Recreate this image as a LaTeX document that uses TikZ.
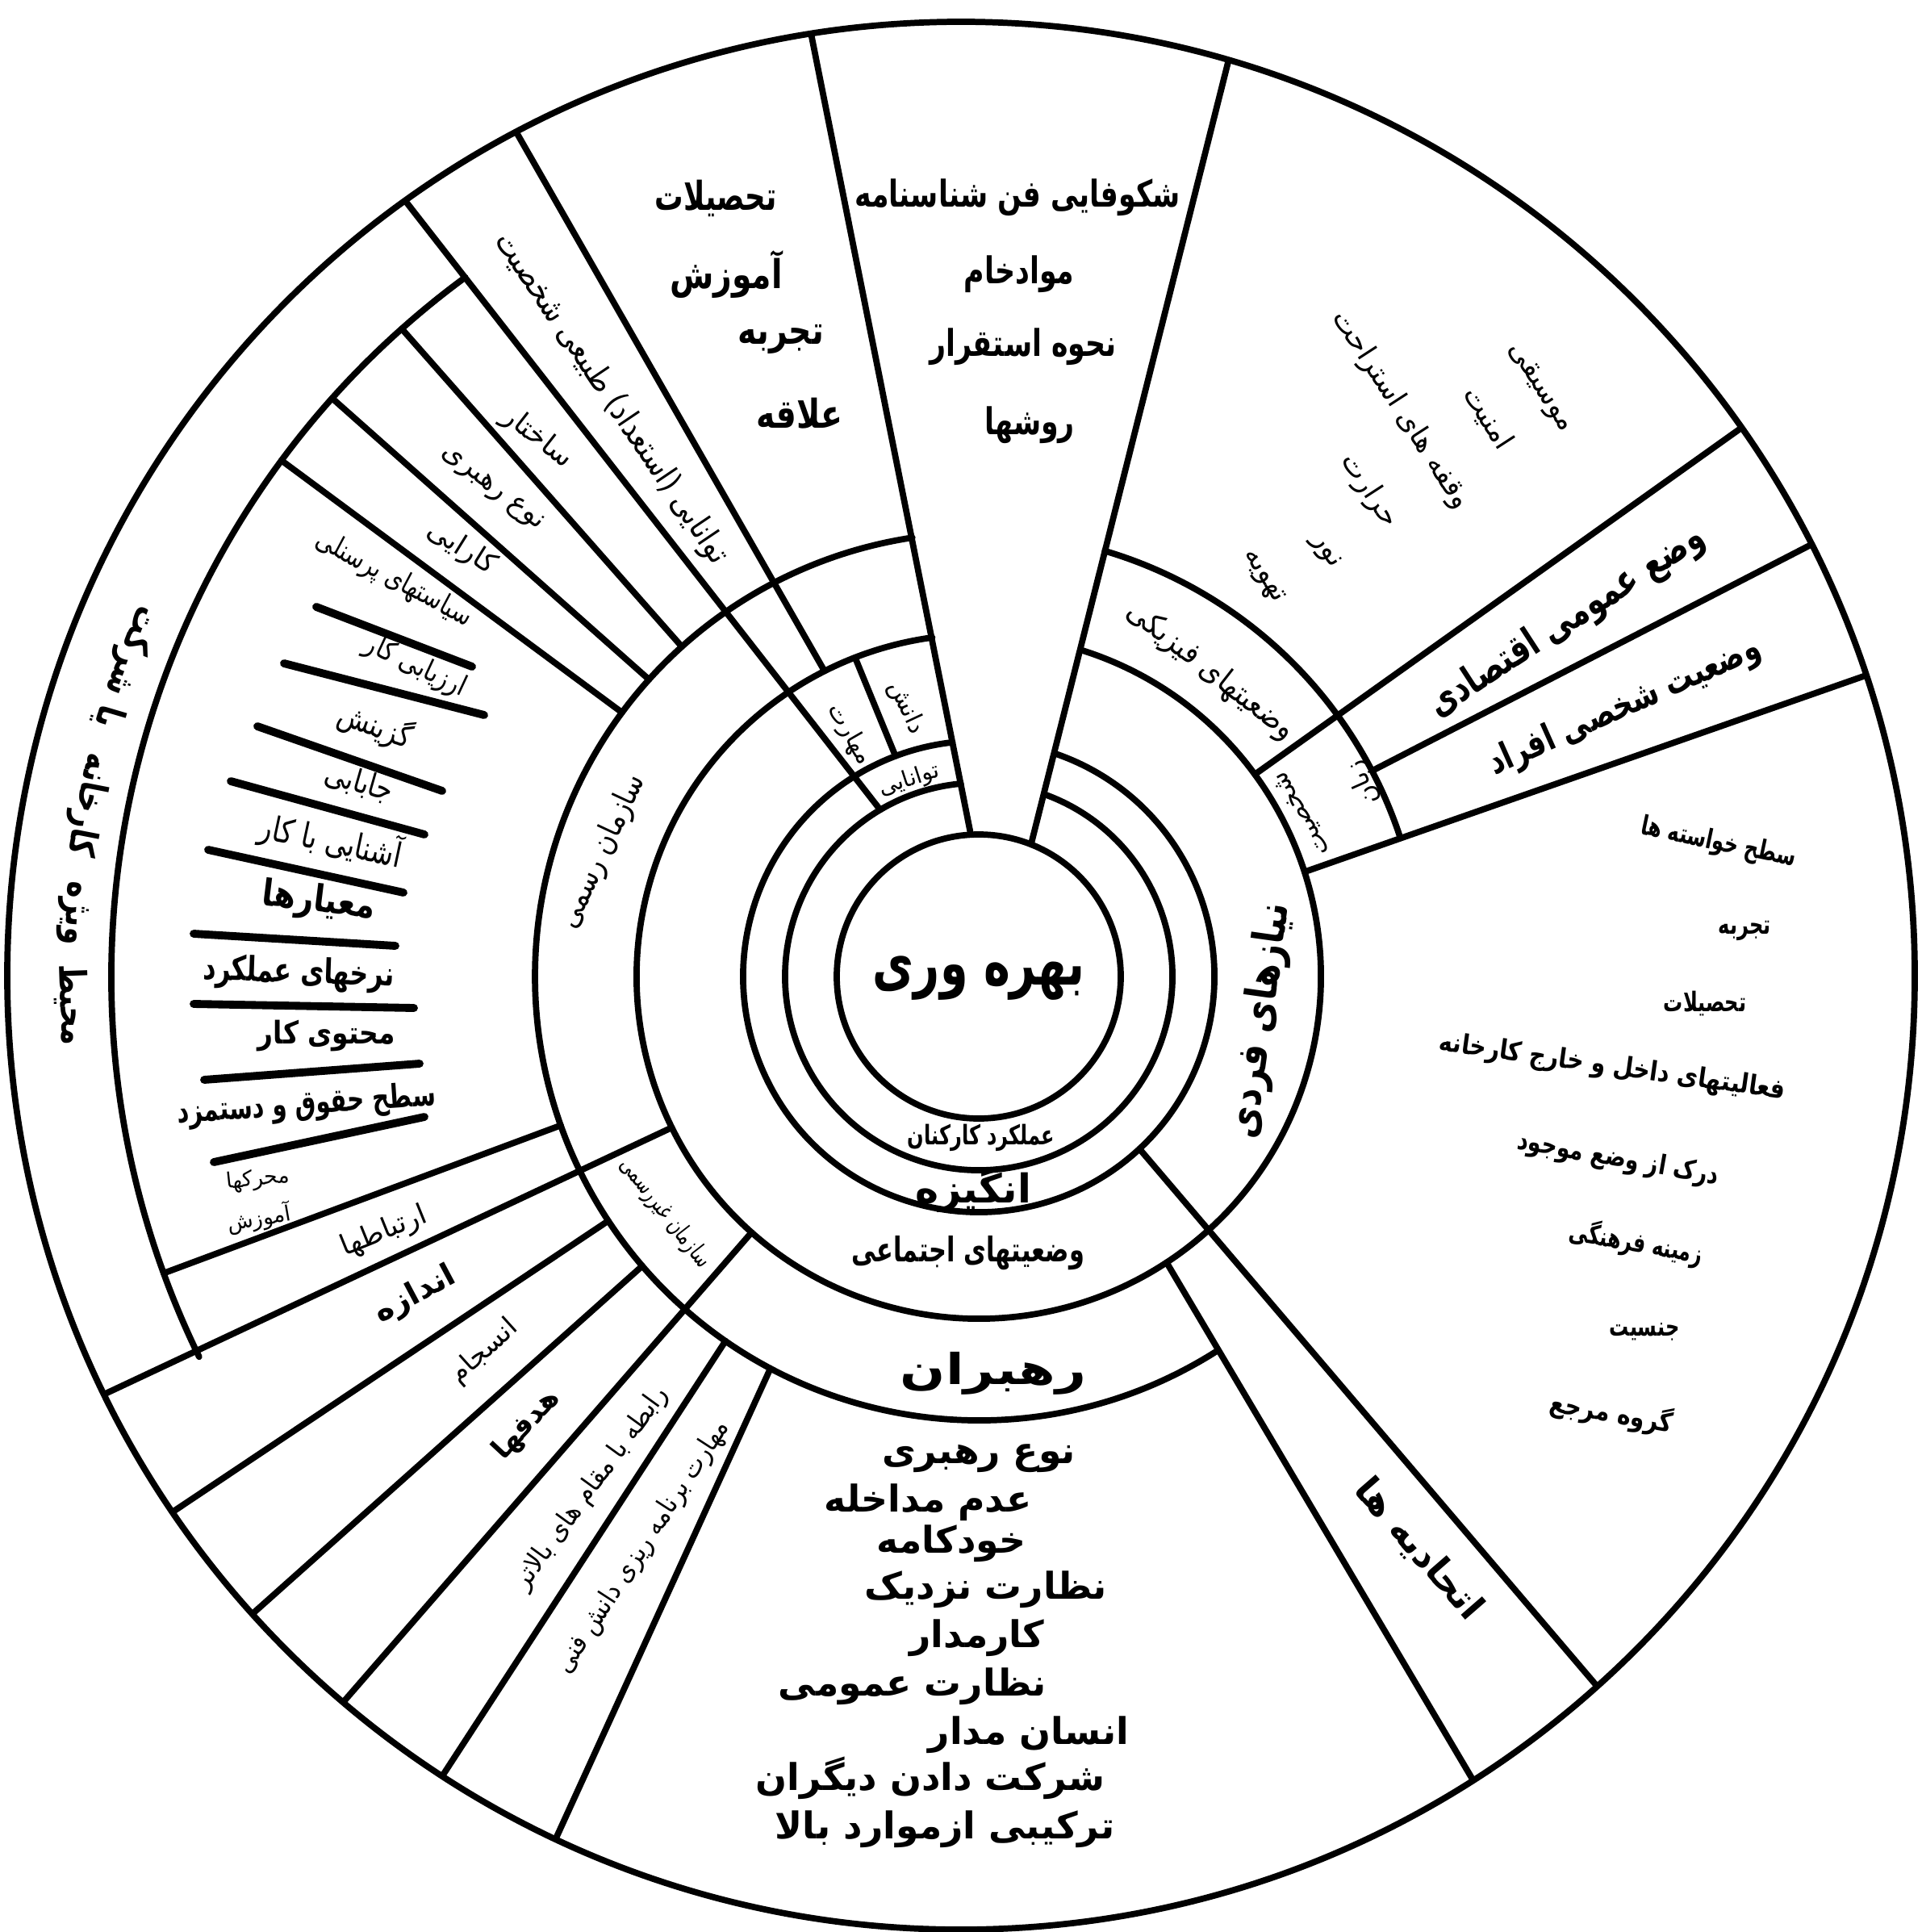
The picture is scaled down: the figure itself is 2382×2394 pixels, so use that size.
\documentclass[tikz,border=0pt]{standalone}
\usepackage{fontspec}
\newfontfamily\fa[Script=Arabic]{DejaVu Sans}
\TeXXeTstate=1
\usetikzlibrary{calc}
\newcommand\fx[1]{{\fa\beginR #1\endR}}
\tikzset{
  ln/.style={line width=2.2pt, line cap=round},
  sepline/.style={line width=2.8pt, line cap=round},
  lbl/.style={inner sep=0pt, outer sep=0pt},
  fs/.style={font=\fontsize{#1}{#1}\selectfont},
}
\begin{document}
\begin{tikzpicture}[x=0.01cm,y=-0.01cm]
\fill[white] (0,0) rectangle (2382,2394);
\useasboundingbox (0,0) rectangle (2382,2394);
\coordinate (O) at (1213,1210);
\coordinate (Oo) at (1191,1209);

% ---------- rings ----------
\draw[ln] (O) circle[radius=176];
\draw[ln] ([shift={(O)}]-70.2:240) arc[start angle=-70.2,end angle=264.7,radius=240];
\draw[ln] ([shift={(O)}]-71.2:292) arc[start angle=-71.2,end angle=263.6,radius=292];
\draw[ln] ([shift={(O)}]-72.7:424) arc[start angle=-72.7,end angle=262.2,radius=424];
\draw[ln] ([shift={(O)}]-73.5:550) arc[start angle=-73.5,end angle=-18.5,radius=550];
\draw[ln] ([shift={(O)}]57.5:550) arc[start angle=57.5,end angle=261.4,radius=550];
\draw[ln] ([shift={(O)}]154:1075) arc[start angle=154,end angle=233.7,radius=1075];

% ---------- coordinates ----------
\coordinate (w1) at ([shift={(O)}]-93.2:176);
\coordinate (w2) at (1007,51);
\coordinate (w3) at ([shift={(O)}]-68.4:176);
\coordinate (w4) at (1522,77);
\coordinate (L1a) at ([shift={(O)}]-116.8:424);
\coordinate (L1b) at ([shift={(O)}]-118.8:1300);
\coordinate (L2a) at ([shift={(O)}]-120.6:240);
\coordinate (L2b) at ([shift={(O)}]-126.6:1300);
\coordinate (L3a) at ([shift={(O)}]-110.7:292);
\coordinate (L3b) at ([shift={(O)}]-111.2:424);
\coordinate (Da) at ([shift={(O)}]-132:550);
\coordinate (Db) at ([shift={(O)}]-131.7:1075);
\coordinate (Ea) at ([shift={(O)}]-138:550);
\coordinate (Eb) at ([shift={(O)}]-138.2:1075);
\coordinate (Fa) at ([shift={(O)}]-143.5:550);
\coordinate (Fb) at ([shift={(O)}]-143.5:1075);
\coordinate (Ga) at ([shift={(O)}]160.4:550);
\coordinate (Gb) at ([shift={(O)}]160:1075);
\coordinate (Ya) at ([shift={(O)}]153.8:424);
\coordinate (Yb) at ([shift={(O)}]154.5:1300);
\coordinate (H1a) at ([shift={(O)}]146.6:550);
\coordinate (H1b) at ([shift={(O)}]146.4:1300);
\coordinate (H2a) at ([shift={(O)}]139.3:550);
\coordinate (H2b) at ([shift={(O)}]138.7:1300);
\coordinate (X1a) at ([shift={(O)}]131.6:424);
\coordinate (X1b) at ([shift={(O)}]131.2:1300);
\coordinate (H3a) at ([shift={(O)}]124.8:550);
\coordinate (H3b) at ([shift={(O)}]123.8:1300);
\coordinate (X0a) at ([shift={(O)}]118:550);
\coordinate (X0b) at ([shift={(O)}]116:1300);
\coordinate (Ba) at ([shift={(O)}]56.7:424);
\coordinate (Bb) at ([shift={(O)}]58.5:1300);
\coordinate (Aa) at ([shift={(O)}]47:292);
\coordinate (Ab) at ([shift={(O)}]49:1300);
\coordinate (Ca) at ([shift={(O)}]-17.8:424);
\coordinate (Cb) at ([shift={(O)}]-18.8:1300);
\coordinate (Ka) at ([shift={(O)}]-27.6:550);
\coordinate (Kb) at ([shift={(O)}]-27.4:1300);
\coordinate (Ma) at ([shift={(O)}]-36.2:424);
\coordinate (Mb) at ([shift={(O)}]-35.7:1300);

% ---------- dividers ----------
\begin{scope}
\clip (Oo) circle[radius=1182];
\draw[ln] (w1) -- ($(w1)!1.1!(w2)$);
\draw[ln] (w3) -- ($(w3)!1.1!(w4)$);
\draw[ln] (L1a) -- (L1b);
\draw[ln] (L2a) -- (L2b);
\draw[ln] (L3a) -- (L3b);
\draw[ln] (Da) -- (Db);
\draw[ln] (Ea) -- (Eb);
\draw[ln] (Fa) -- (Fb);
\draw[ln] (Ga) -- (Gb);
\draw[ln] (Ya) -- (Yb);
\draw[ln] (H1a) -- (H1b);
\draw[ln] (H2a) -- (H2b);
\draw[ln] (X1a) -- (X1b);
\draw[ln] (H3a) -- (H3b);
\draw[ln] (X0a) -- (X0b);
\draw[ln] (Ba) -- (Bb);
\draw[ln] (Aa) -- (Ab);
\draw[ln] (Ca) -- (Cb);
\draw[ln] (Ka) -- (Kb);
\draw[ln] (Ma) -- (Mb);
\end{scope}
\draw[ln] (Oo) circle[radius=1182];

% list separators (left fan)
\draw[sepline] (392,752) -- (585,826);
\draw[sepline] (352,822) -- (600,886);
\draw[sepline] (319,900) -- (548,980);
\draw[sepline] (286,968) -- (526,1034);
\draw[sepline] (258,1053) -- (500,1106);
\draw[sepline] (240,1157) -- (490,1172);
\draw[sepline] (240,1244) -- (513,1249);
\draw[sepline] (253,1338) -- (520,1318);
\draw[sepline] (265,1440) -- (526,1384);

% ---------- inner labels ----------
\node[lbl,fs=22,xscale=0.72] (n0) at (1213,1212) {\bfseries\fx{بهره وری}};
\node[lbl,fs=9.5,xscale=0.72] (n1) at (1216,1410) {\bfseries\fx{عملکرد کارکنان}};
\node[lbl,fs=14] (n2) at (1206,1474) {\bfseries\fx{انگیزه}};
\node[lbl,fs=8,rotate=18] (n3) at (1127,967) {\fx{توانایی}};
\node[lbl,fs=12,xscale=0.72] (n4) at (1200,1553) {\bfseries\fx{وضعیتهای اجتماعی}};
\node[lbl,fs=8.5,rotate=-65] (n5) at (1123,877) {\fx{دانش}};
\node[lbl,fs=8.5,rotate=-60] (n6) at (1053,910) {\fx{مهارت}};
\node[lbl,fs=15,rotate=82,xscale=0.82] (n7) at (1563,1265) {\bfseries\fx{نیازهای فردی}};
\node[lbl,fs=15,xscale=1.25] (n8) at (1231,1702) {\bfseries\fx{رهبران}};
\node[lbl,fs=8.5,rotate=-52,xscale=0.72] (n9) at (824,1503) {\fx{سازمان غیررسمی}};
\node[lbl,fs=11,rotate=65,xscale=0.85] (n10) at (747,1055) {\fx{سازمان رسمی}};
\node[lbl,fs=11,rotate=-38,xscale=0.9] (n11) at (1500,832) {\fx{وضعیتهای فیزیکی}};
\node[lbl,fs=9,rotate=120] (n12) at (1614,1008) {\fx{شخصیت}};
\node[lbl,fs=9,rotate=114] (n13) at (1690,970) {\fx{زبان}};

% ---------- top wedge ----------
\node[lbl,fs=13,xscale=0.76] (n14) at (1261,245) {\bfseries\fx{شکوفایی فن شناسنامه}};
\node[lbl,fs=13,xscale=0.76] (n15) at (1263,340) {\bfseries\fx{موادخام}};
\node[lbl,fs=13,xscale=0.76] (n16) at (1268,430) {\bfseries\fx{نحوه استقرار}};
\node[lbl,fs=13,xscale=0.76] (n17) at (1276,527) {\bfseries\fx{روشها}};

% ---------- top left ----------
\node[lbl,fs=14,xscale=0.72] (n18) at (887,246) {\bfseries\fx{تحصیلات}};
\node[lbl,fs=14,xscale=0.8] (n19) at (900,340) {\bfseries\fx{آموزش}};
\node[lbl,fs=14,xscale=0.8] (n20) at (968,420) {\bfseries\fx{تجربه}};
\node[lbl,fs=14,xscale=0.8] (n21) at (991,512) {\bfseries\fx{علاقه}};
\node[lbl,fs=11.5,rotate=-56,xscale=0.86] (n22) at (757,494) {\fx{توانایی (استعداد) طبیعی شخصیت}};

% ---------- left fan ----------
\node[lbl,fs=10,rotate=-38] (f1) at (666,543) {\fx{ساختار}};
\node[lbl,fs=10,rotate=-38] (f2) at (610,606) {\fx{نوع رهبری}};
\node[lbl,fs=10,rotate=-32] (f3) at (572,680) {\fx{کارایی}};
\node[lbl,fs=10,rotate=-28,xscale=0.8] (f4) at (488,718) {\fx{سیاستهای پرسنلی}};
\node[lbl,fs=10,rotate=-25,xscale=0.85] (f5) at (515,826) {\fx{ارزیابی کار}};
\node[lbl,fs=11,rotate=-20,xscale=0.85] (f6) at (465,900) {\fx{گزینش}};
\node[lbl,fs=11,rotate=-16,xscale=0.85] (f7) at (445,970) {\fx{جابابی}};
\node[lbl,fs=12,rotate=-12,xscale=0.8] (f8) at (410,1042) {\fx{آشنایی با کار}};
\node[lbl,fs=13,rotate=-7,xscale=0.85] (f9) at (395,1118) {\bfseries\fx{معیارها}};
\node[lbl,fs=12,rotate=-2,xscale=0.75] (f10) at (370,1207) {\bfseries\fx{نرخهای عملکرد}};
\node[lbl,fs=11,xscale=0.85] (f11) at (405,1284) {\bfseries\fx{محتوی کار}};
\node[lbl,fs=11.5,rotate=4,xscale=0.72] (f12) at (380,1370) {\bfseries\fx{سطح حقوق و دستمزد}};
\node[lbl,fs=7.5,rotate=6] (f13) at (320,1462) {\fx{محرکها}};
\node[lbl,fs=7.5,rotate=10] (f14) at (321,1510) {\fx{آموزش}};

% outer band (curved words)
\node[lbl,fs=13,rotate=-88,xscale=0.78] (m1) at ([shift={(O)}]178.2:1125) {\bfseries\fx{محیط}};
\node[lbl,fs=13,rotate=-94,xscale=0.78] (m2) at ([shift={(O)}]184.0:1125) {\bfseries\fx{ویژه}};
\node[lbl,fs=13,rotate=-101,xscale=0.78] (m3) at ([shift={(O)}]190.9:1125) {\bfseries\fx{کارخانه}};
\node[lbl,fs=13,rotate=-106.5,xscale=0.78] (m4) at ([shift={(O)}]196.6:1125) {\bfseries\fx{یا}};
\node[lbl,fs=13,rotate=-111,xscale=0.78] (m5) at ([shift={(O)}]201.0:1125) {\bfseries\fx{شرکت}};

% ---------- bottom left sectors ----------
\node[lbl,fs=10,rotate=22] (b1) at (476,1527) {\fx{ارتباطها}};
\node[lbl,fs=11,rotate=28] (b2) at (515,1605) {\bfseries\fx{اندازه}};
\node[lbl,fs=9.5,rotate=42] (b3) at (600,1675) {\fx{انسجام}};
\node[lbl,fs=10,rotate=47] (b4) at (653,1766) {\bfseries\fx{هدفها}};
\node[lbl,fs=9.5,rotate=54,xscale=0.92] (b5) at (733,1844) {\fx{رابطه با مقام های بالاتر}};
\node[lbl,fs=9.5,rotate=57,xscale=0.88] (b6) at (797,1917) {\fx{مهارت برنامه ریزی دانش فنی}};

% ---------- bottom list ----------
\node[lbl,fs=13] (l1) at (1213,1807) {\bfseries\fx{نوع رهبری}};
\node[lbl,fs=13] (l2) at (1150,1862) {\bfseries\fx{عدم مداخله}};
\node[lbl,fs=13] (l3) at (1179,1913) {\bfseries\fx{خودکامه}};
\node[lbl,fs=13] (l4) at (1222,1970) {\bfseries\fx{نظارت نزدیک}};
\node[lbl,fs=13] (l5) at (1211,2030) {\bfseries\fx{کارمدار}};
\node[lbl,fs=13] (l6) at (1131,2090) {\bfseries\fx{نظارت عمومی}};
\node[lbl,fs=13] (l7) at (1275,2150) {\bfseries\fx{انسان مدار}};
\node[lbl,fs=13] (l8) at (1153,2203) {\bfseries\fx{شرکت دادن دیگران}};
\node[lbl,fs=13] (l9) at (1171,2267) {\bfseries\fx{ترکیبی ازموارد بالا}};

\node[lbl,fs=13,rotate=-49] (u1) at (1758,1920) {\bfseries\fx{اتحادیه ها}};

% ---------- right list ----------
\node[lbl,fs=9.5,rotate=-12,xscale=0.72] (r1) at (2130,1045) {\bfseries\fx{سطح خواسته ها}};
\node[lbl,fs=9.5,xscale=0.72] (r2) at (2162,1153) {\bfseries\fx{تجربه}};
\node[lbl,fs=9.5,xscale=0.72] (r3) at (2113,1244) {\bfseries\fx{تحصیلات}};
\node[lbl,fs=9.5,rotate=-8,xscale=0.85] (r4) at (1998,1323) {\bfseries\fx{فعالیتهای داخل و خارج کارخانه}};
\node[lbl,fs=9.5,rotate=-10,xscale=0.8] (r5) at (2005,1437) {\bfseries\fx{درک از وضع موجود}};
\node[lbl,fs=9.5,rotate=-10,xscale=0.72] (r6) at (2028,1540) {\bfseries\fx{زمینه فرهنگی}};
\node[lbl,fs=9.5,xscale=0.72] (r7) at (2038,1650) {\bfseries\fx{جنسیت}};
\node[lbl,fs=9.5,rotate=-10,xscale=0.85] (r8) at (1997,1751) {\bfseries\fx{گروه مرجع}};

% ---------- top right ----------
\node[lbl,fs=10,rotate=-57] (t1) at (1908,481) {\fx{موسیقی}};
\node[lbl,fs=10,rotate=-57] (t2) at (1844,518) {\fx{امنیت}};
\node[lbl,fs=10,rotate=-57] (t3) at (1736,508) {\fx{وقفه های استراحت}};
\node[lbl,fs=10,rotate=-57] (t4) at (1697,608) {\fx{حرارت}};
\node[lbl,fs=10,rotate=-57] (t5) at (1642,684) {\fx{نور}};
\node[lbl,fs=10,rotate=-57] (t6) at (1565,715) {\fx{تهویه}};

\node[lbl,fs=14,rotate=33,xscale=0.75] (e1) at (1942,771) {\bfseries\fx{وضع عمومی اقتصادی}};
\node[lbl,fs=13,rotate=24,xscale=0.76] (e2) at (2014,876) {\bfseries\fx{وضعیت شخصی افراد}};
\end{tikzpicture}
\end{document}
